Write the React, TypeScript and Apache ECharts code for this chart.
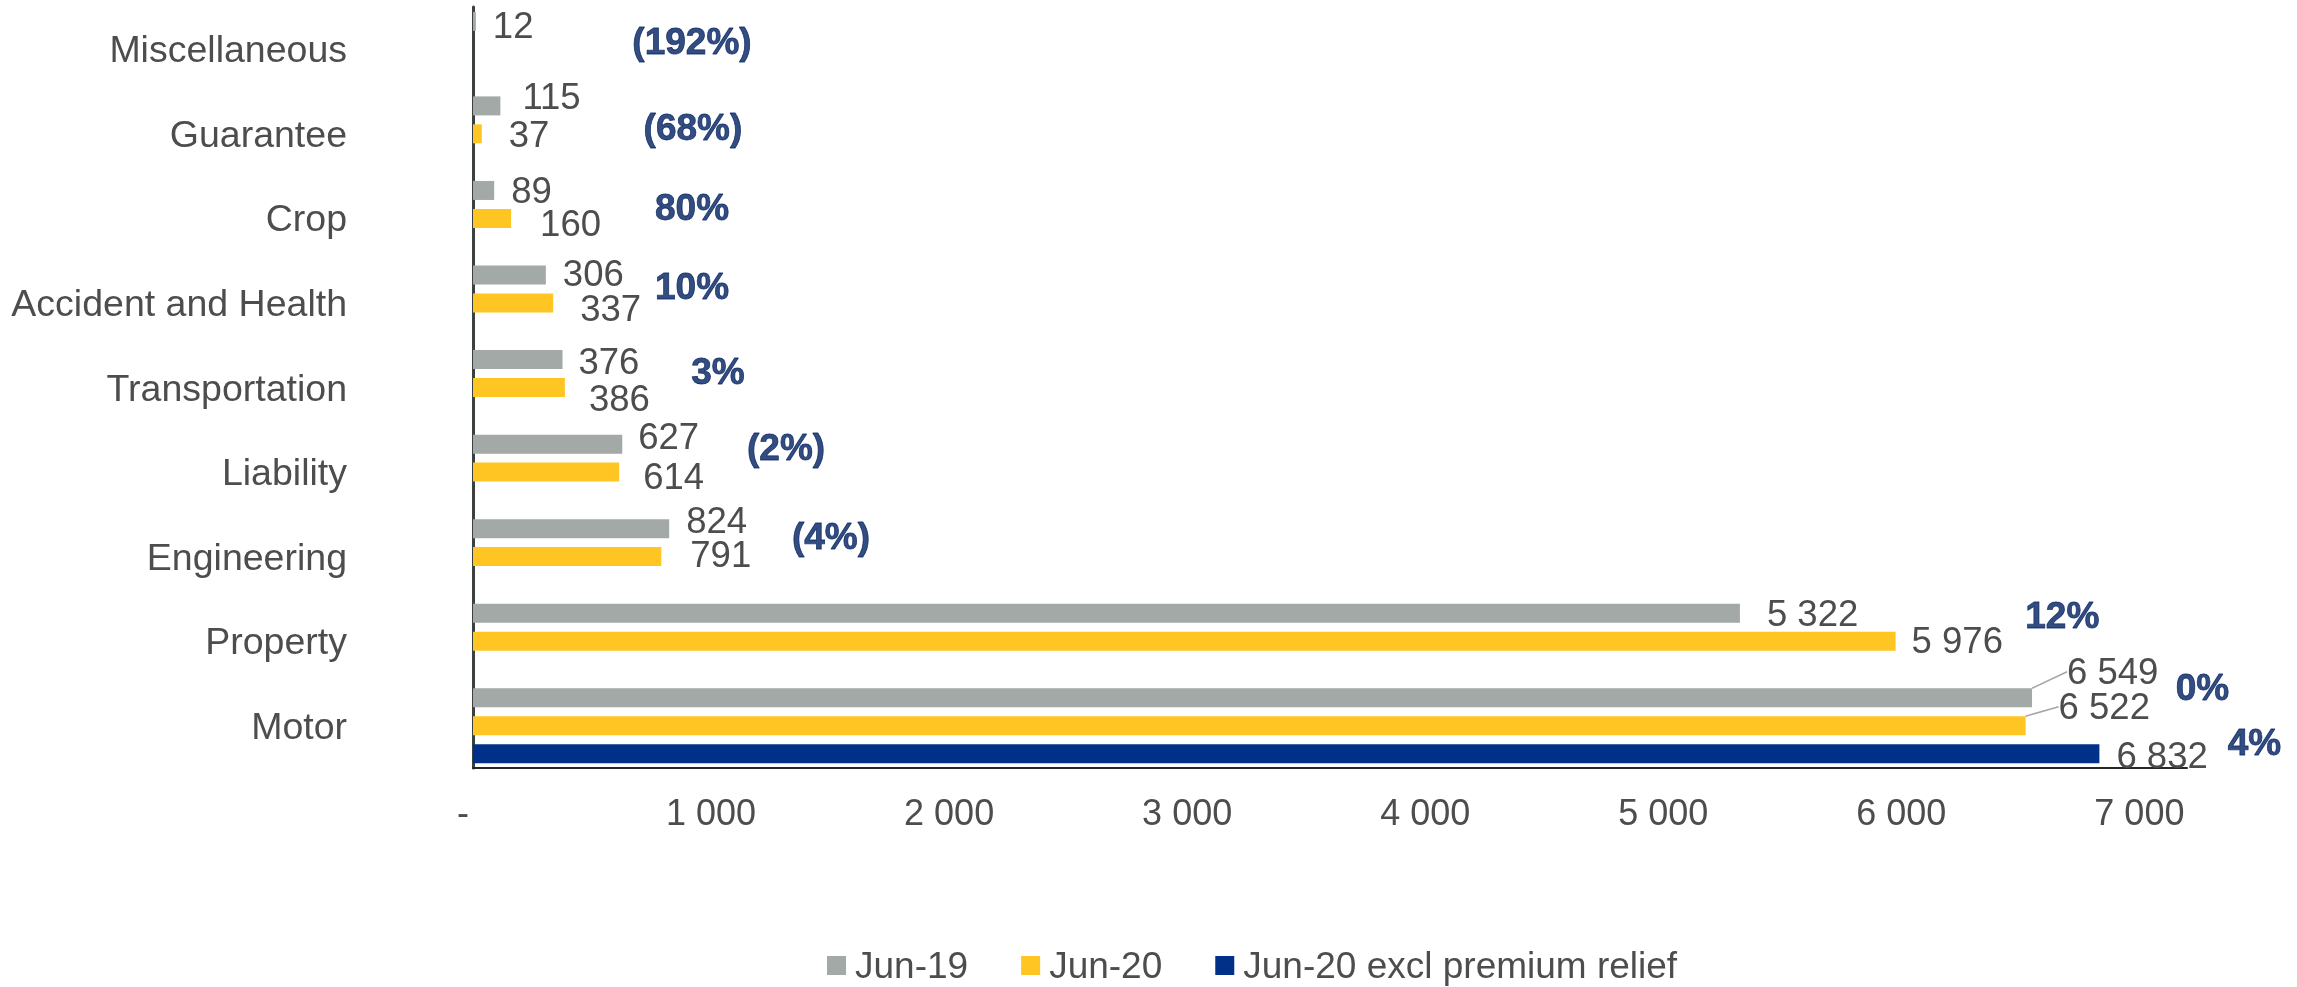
import React, { useEffect, useRef } from "react";
import * as echarts from "echarts";

// ---- data ----
const categories = [
  "Miscellaneous",
  "Guarantee",
  "Crop",
  "Accident and Health",
  "Transportation",
  "Liability",
  "Engineering",
  "Property",
  "Motor",
];
const jun19 = [12, 115, 89, 306, 376, 627, 824, 5322, 6549];
const jun20 = [null, 37, 160, 337, 386, 614, 791, 5976, 6522];
const jun20Excl = [null, null, null, null, null, null, null, null, 6832];
const seriesNames = ["Jun-19", "Jun-20", "Jun-20 excl premium relief"];
const changeText = ["(192%)", "(68%)", "80%", "10%", "3%", "(2%)", "(4%)", "12%", "0%", "4%"];
const changeCategory = [...categories, "Motor"];
const xTicks = [0, 1000, 2000, 3000, 4000, 5000, 6000, 7000];

// ---- layout / style (not data) ----
const changeAnchorX = [920, 924, 920, 920, 1029, 1315, 1504, 6676, 7265, 7483];
const changeOffsetY = [-8, -6, -11, -16, -16, -25, -20, -26, -38, 17];
const grayLabelShift = [
  [0, 4], [5, -9], [0, 0], [0, -2], [-1, 2], [-1, -8], [0, -8], [10, 0], [18, -26],
];
const yellowLabelShift = [
  [0, -1], [10, 1], [12, 5], [10, 6], [7, 11], [7, 4], [12, -2], [-1, -1], [16, -19],
];
const blueLabelShift = [
  [0, 0], [0, 0], [0, 0], [0, 0], [0, 0], [0, 0], [0, 0], [0, 0], [0, 2],
];

const FONT = "'Liberation Sans', Arial, sans-serif";
const GRAY = "#A2A9A6";
const YELLOW = "#FFC522";
const BLUE = "#003087";
const NAVY = "#002060";
const TEXT = "#4D4D4D";

const fmt = (v: number) => {
  if (v === 0) return "{z|-}";
  const s = String(Math.round(v));
  return s.replace(/\B(?=(\d{3})+(?!\d))/g, " ");
};

function makeBar(name: string, values: (number | null)[], color: string, shifts: number[][]) {
  const lastIdx = values.length - 1;
  return {
    name,
    type: "bar",
    barWidth: 19,
    barGap: "47%",
    itemStyle: { color },
    data: values.map((v, i) => ({
      value: v,
      labelLine:
        i === lastIdx && name !== seriesNames[2]
          ? { show: true, lineStyle: { color: "#A6A6A6", width: 1.5 } }
          : { show: false },
    })),
    label: {
      show: true,
      position: "right",
      distance: 17,
      color: TEXT,
      fontSize: 36.5,
      fontFamily: FONT,
      formatter: (p: any) => (p.value == null ? "" : fmt(p.value)),
    },
    labelLayout: (p: any) => {
      const s = shifts[p.dataIndex] || [0, 0];
      return { dx: s[0], dy: s[1] };
    },
  };
}

export default function App() {
  const ref = useRef<HTMLDivElement>(null);
  useEffect(() => {
    if (!ref.current) return;
    const chart = echarts.init(ref.current, null, { renderer: "svg" });
    chart.setOption({
      animation: false,
      textStyle: { fontFamily: FONT },
      grid: { left: 473, right: 110, top: 7, bottom: 219, containLabel: false },
      legend: {
        data: seriesNames,
        left: 822,
        top: 942,
        icon: "rect",
        itemWidth: 19,
        itemHeight: 19,
        itemGap: 53,
        textStyle: {
          color: TEXT,
          fontSize: 37,
          lineHeight: 30,
          fontFamily: FONT,
          padding: [0, 0, 0, 4],
        },
      },
      xAxis: {
        type: "value",
        min: 0,
        max: 7200,
        interval: 1000,
        splitLine: { show: false },
        axisTick: { show: false },
        axisLine: { show: true, lineStyle: { color: "#262626", width: 2 } },
        axisLabel: {
          color: TEXT,
          fontSize: 36,
          fontFamily: FONT,
          margin: 26,
          showMaxLabel: false,
          formatter: (v: number) => (xTicks.includes(v) ? fmt(v) : ""),
          rich: { z: { fontSize: 36, color: TEXT, fontFamily: FONT, padding: [0, 20, 0, 0] } },
        },
      },
      yAxis: {
        type: "category",
        data: categories,
        inverse: true,
        axisTick: { show: false },
        axisLine: { show: true, lineStyle: { color: "#3B4040", width: 3 } },
        axisLabel: { color: TEXT, fontSize: 37.5, fontFamily: FONT, margin: 126 },
      },
      series: [
        makeBar(seriesNames[0], jun19, GRAY, grayLabelShift),
        makeBar(seriesNames[1], jun20, YELLOW, yellowLabelShift),
        makeBar(seriesNames[2], jun20Excl, BLUE, blueLabelShift),
        {
          name: "change",
          type: "scatter",
          symbolSize: 0,
          clip: false,
          silent: true,
          data: changeText.map((t, i) => ({
            value: [changeAnchorX[i], changeCategory[i]],
            label: { offset: [0, changeOffsetY[i]] },
          })),
          label: {
            show: true,
            position: "inside",
            color: NAVY,
            fontSize: 37,
            fontWeight: "bold",
            fontFamily: FONT,
            textBorderColor: NAVY,
            textBorderWidth: 0.8,
            formatter: (p: any) => changeText[p.dataIndex],
          },
        },
      ],
    });
    return () => chart.dispose();
  }, []);
  return (
    <div
      ref={ref}
      style={{ position: "fixed", left: 0, top: 0, width: 2297, height: 987 }}
    />
  );
}
